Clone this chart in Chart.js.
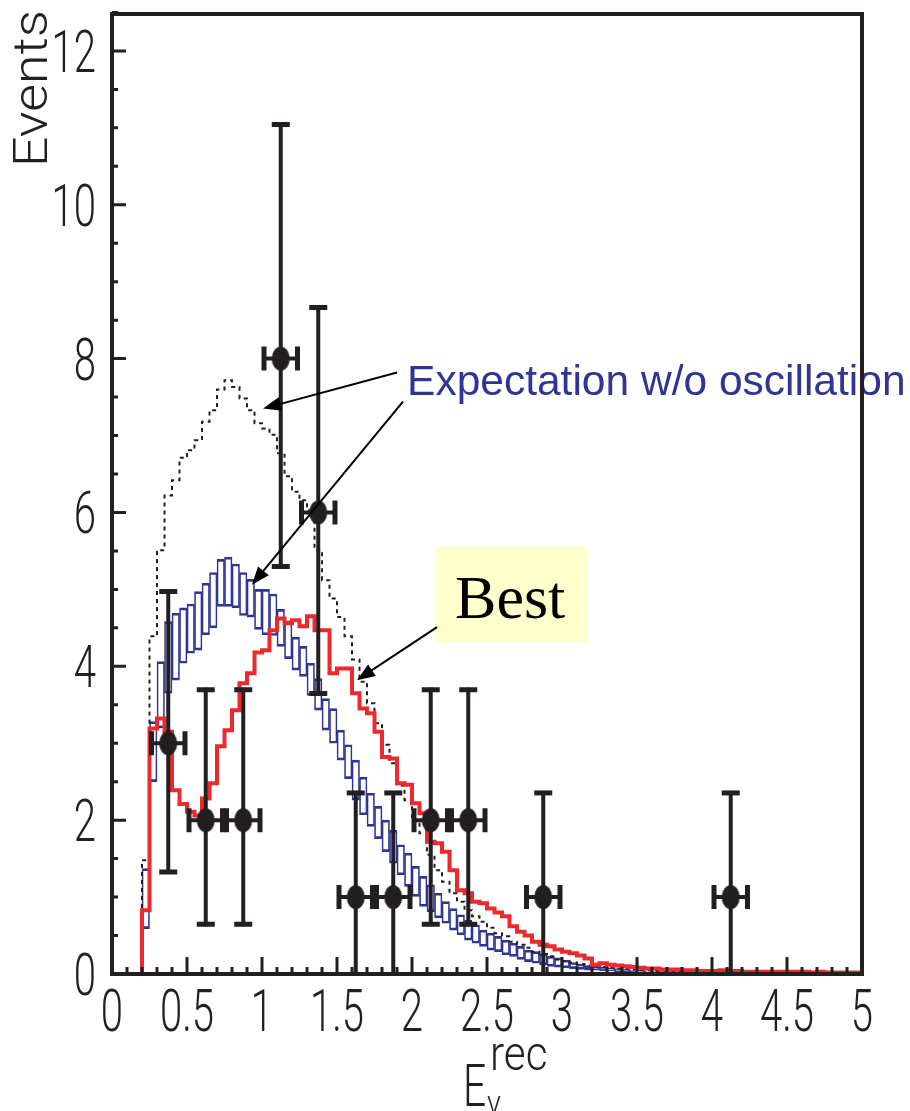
<!DOCTYPE html>
<html>
<head>
<meta charset="utf-8">
<script src="https://cdn.jsdelivr.net/npm/chart.js@4.4.0/dist/chart.umd.min.js"></script>
<style>
  html, body { margin: 0; padding: 0; background: #fff; }
  #wrap { width: 910px; height: 1111px; }
</style>
</head>
<body>
<div id="wrap"><canvas id="myChart" width="910" height="1111"></canvas></div>
<script>
// histogram bins are 0.05 wide, starting at 0
var binWidth = 0.05;

// best-fit oscillated spectrum (red)
var bestFit = [
    0, 0, 0, 0, 0.83, 3.19, 3.32, 3.15, 2.39, 2.21,
    2.11, 2.06, 2.28, 2.48, 2.96, 3.17, 3.43, 3.78, 3.91, 4.18,
    4.21, 4.47, 4.62, 4.56, 4.60, 4.52, 4.65, 4.47, 4.47, 3.91,
    3.97, 3.97, 3.65, 3.45, 3.39, 3.15, 2.82, 2.80, 2.48, 2.46,
    2.22, 2.09, 1.72, 1.70, 1.59, 1.35, 1.09, 1.05, 0.94, 0.92,
    0.85, 0.80, 0.75, 0.62, 0.55, 0.50, 0.42, 0.38, 0.36, 0.32,
    0.29, 0.27, 0.24, 0.20, 0.12, 0.14, 0.12, 0.11, 0.10, 0.09,
    0.08, 0.07, 0.07, 0.06, 0.06, 0.06, 0.05, 0.05, 0.04, 0.04,
    0.04, 0.05, 0.04, 0.04, 0.03, 0.03, 0.03, 0.03, 0.03, 0.03,
    0.03, 0.03, 0.03, 0.02, 0.03, 0.02, 0.02, 0.02, 0.02, 0.02
];

// expectation without oscillation (dashed)
var noOsc = [
    0, 0, 0, 0, 1.48, 4.39, 5.51, 6.22, 6.42, 6.71,
    6.81, 6.94, 7.18, 7.33, 7.60, 7.72, 7.63, 7.48, 7.33, 7.16,
    7.09, 7.01, 6.77, 6.47, 6.27, 6.16, 6.03, 5.51, 5.12, 4.88,
    4.64, 4.39, 4.09, 3.80, 3.52, 3.26, 2.98, 2.74, 2.45, 2.26,
    1.98, 1.83, 1.55, 1.35, 1.20, 1.05, 0.94, 0.83, 0.75, 0.68,
    0.60, 0.53, 0.49, 0.42, 0.38, 0.34, 0.29, 0.26, 0.23, 0.19,
    0.17, 0.15, 0.13, 0.11, 0.10, 0.09, 0.08, 0.07, 0.07, 0.06,
    0.05, 0.05, 0.04, 0.04, 0.04, 0.03, 0.03, 0.03, 0.03, 0.02,
    0.02, 0.02, 0.02, 0.02, 0.02, 0.02, 0.02, 0.01, 0.01, 0.01,
    0.01, 0.01, 0.01, 0.01, 0.01, 0.01, 0.01, 0.01, 0.01, 0.01
];

// error band boxes (blue), first box starts at bandStart
var bandStart = 0.20;
var bandLow = [
    0.59, 2.50, 3.20, 3.65, 3.82, 4.04, 4.17, 4.21, 4.41, 4.50,
    4.78, 4.78, 4.76, 4.66, 4.64, 4.48, 4.41, 4.40, 4.26, 4.10,
    3.95, 3.87, 3.62, 3.43, 3.17, 3.00, 2.78, 2.54, 2.26, 2.07,
    1.92, 1.76, 1.59, 1.44, 1.29, 1.14, 1.01, 0.88, 0.81, 0.73,
    0.66, 0.57, 0.51, 0.44, 0.40, 0.36, 0.31, 0.29, 0.25, 0.23,
    0.19, 0.16, 0.14, 0.12, 0.10, 0.09, 0.08, 0.07, 0.06, 0.05,
    0.05, 0.04, 0.04, 0.03, 0.03, 0.03, 0.02, 0.02, 0.02, 0.02,
    0.01, 0.01, 0.01, 0.01, 0.01, 0.01
];
var bandHigh = [
    1.37, 3.28, 4.06, 4.58, 4.69, 4.76, 4.81, 4.97, 5.08, 5.22,
    5.39, 5.42, 5.33, 5.22, 5.13, 5.00, 5.00, 4.94, 4.74, 4.59,
    4.38, 4.26, 4.04, 3.84, 3.58, 3.45, 3.17, 2.98, 2.78, 2.56,
    2.35, 2.18, 2.00, 1.87, 1.68, 1.57, 1.40, 1.27, 1.16, 1.05,
    0.94, 0.85, 0.77, 0.70, 0.64, 0.57, 0.53, 0.49, 0.44, 0.40,
    0.36, 0.31, 0.29, 0.26, 0.23, 0.21, 0.18, 0.15, 0.13, 0.11,
    0.10, 0.09, 0.08, 0.07, 0.06, 0.05, 0.05, 0.04, 0.04, 0.03,
    0.03, 0.03, 0.02, 0.02, 0.02, 0.02
];

// observed events
var pointX = [0.375, 0.625, 0.875, 1.125, 1.375, 1.625, 1.875, 2.125, 2.375, 2.875, 4.125];
var pointY = [3, 2, 2, 8, 6, 1, 1, 2, 2, 1, 1];
var errLow = [1.30, 0.62, 0.62, 5.27, 3.62, 0, 0, 0.62, 0.62, 0, 0];
var errHigh = [5.00, 3.72, 3.72, 11.07, 8.69, 2.38, 2.38, 3.72, 3.72, 2.38, 2.38];
var xHalfWidth = 0.125;

var xTickLabels = ['0', '0.5', '1', '1.5', '2', '2.5', '3', '3.5', '4', '4.5', '5'];
var yTickLabels = ['0', '2', '4', '6', '8', '10', '12'];

var INK = '#231f20';
var RED = '#ec2a2e';
var BLUE = '#2f3592';

function stepPoints(vals) {
    var pts = vals.map(function(v, i) { return { x: i * binWidth, y: v }; });
    pts.push({ x: vals.length * binWidth, y: vals[vals.length - 1] });
    return pts;
}

// filled ellipse used as the data marker
var dot = document.createElement('canvas');
dot.width = 20; dot.height = 26;
var dc = dot.getContext('2d');
dc.fillStyle = INK;
dc.beginPath();
dc.ellipse(10, 13, 9, 12, 0, 0, Math.PI * 2);
dc.fill();

function squeezed(ctx, text, x, y, align, sx) {
    ctx.save();
    ctx.translate(x, y);
    ctx.scale(sx, 1);
    ctx.textAlign = align;
    ctx.fillText(text, 0, 0);
    ctx.restore();
}

function arrow(ctx, x1, y1, x2, y2) {
    var ang = Math.atan2(y2 - y1, x2 - x1);
    var len = 18, half = 7;
    var c = Math.cos(ang), s = Math.sin(ang);
    ctx.beginPath();
    ctx.moveTo(x1, y1);
    ctx.lineTo(x2 - len * 0.8 * c, y2 - len * 0.8 * s);
    ctx.stroke();
    ctx.beginPath();
    ctx.moveTo(x2, y2);
    ctx.lineTo(x2 - len * c + half * s, y2 - len * s - half * c);
    ctx.lineTo(x2 - len * c - half * s, y2 - len * s + half * c);
    ctx.closePath();
    ctx.fill();
}

var errorBars = {
    id: 'errorBars',
    afterDatasetsDraw: function(chart) {
        var ctx = chart.ctx, xs = chart.scales.x, ys = chart.scales.y;
        ctx.save();
        ctx.strokeStyle = INK;
        ctx.lineCap = 'butt';
        for (var i = 0; i < pointX.length; i++) {
            var px = xs.getPixelForValue(pointX[i]);
            var py = ys.getPixelForValue(pointY[i]);
            var top = ys.getPixelForValue(errHigh[i]);
            var bot = ys.getPixelForValue(errLow[i]);
            ctx.lineWidth = 4;
            ctx.beginPath();
            ctx.moveTo(px, top); ctx.lineTo(px, bot);
            ctx.stroke();
            ctx.lineWidth = 5;
            ctx.beginPath();
            ctx.moveTo(px - 9, top + 2); ctx.lineTo(px + 9, top + 2);
            if (errLow[i] > 0) { ctx.moveTo(px - 9, bot - 2); ctx.lineTo(px + 9, bot - 2); }
            ctx.stroke();
            var xl = xs.getPixelForValue(pointX[i] - xHalfWidth);
            var xr = xs.getPixelForValue(pointX[i] + xHalfWidth);
            ctx.lineWidth = 4;
            ctx.beginPath();
            ctx.moveTo(xl, py); ctx.lineTo(xr, py);
            ctx.stroke();
            ctx.lineWidth = 5;
            ctx.beginPath();
            ctx.moveTo(xl + 2, py - 12); ctx.lineTo(xl + 2, py + 12);
            ctx.moveTo(xr - 2, py - 12); ctx.lineTo(xr - 2, py + 12);
            ctx.stroke();
        }
        ctx.restore();
    }
};

var frame = {
    id: 'frame',
    afterDraw: function(chart) {
        var ctx = chart.ctx, a = chart.chartArea, xs = chart.scales.x, ys = chart.scales.y;
        var X = function(v) { return xs.getPixelForValue(v); };
        var Y = function(v) { return ys.getPixelForValue(v); };
        ctx.save();

        // "Best" note
        ctx.fillStyle = '#ffffcc';
        ctx.fillRect(X(2.153), Y(5.553), X(3.173) - X(2.153), Y(4.317) - Y(5.553));
        ctx.fillStyle = '#000';
        ctx.font = '62px "Liberation Serif", "Times New Roman", serif';
        ctx.textAlign = 'left';
        ctx.fillText('Best', X(2.287), Y(4.63));

        ctx.fillStyle = BLUE;
        ctx.font = '42.5px "Liberation Sans", Arial, sans-serif';
        ctx.fillText('Expectation w/o oscillation', X(1.967), Y(7.53));

        ctx.strokeStyle = '#000';
        ctx.fillStyle = '#000';
        ctx.lineWidth = 2;
        arrow(ctx, X(1.90), Y(7.82), X(1.007), Y(7.35));
        arrow(ctx, X(1.94), Y(7.44), X(0.933), Y(5.06));
        arrow(ctx, X(2.167), Y(4.51), X(1.633), Y(3.82));

        // box and inward ticks
        ctx.strokeStyle = INK;
        ctx.lineWidth = 4;
        ctx.strokeRect(a.left, a.top, a.right - a.left, a.bottom - a.top);
        ctx.lineWidth = 3;
        ctx.beginPath();
        for (var k = 1; k < 50; k++) {
            var tx = X(k * 0.1);
            var tl = (k % 5 === 0) ? 17 : 7;
            ctx.moveTo(tx, a.bottom); ctx.lineTo(tx, a.bottom - tl);
        }
        for (var j = 1; j <= 25; j++) {
            var ty = Y(j * 0.5);
            var yl = (j % 4 === 0) ? 14 : 6;
            ctx.moveTo(a.left, ty); ctx.lineTo(a.left + yl, ty);
        }
        ctx.stroke();

        // tick labels, narrow face
        ctx.fillStyle = INK;
        ctx.font = '300 59px Roboto, "Liberation Sans", sans-serif';
        xTickLabels.forEach(function(t, i) {
            squeezed(ctx, t, X(i * 0.5), 1031, 'center', 0.68);
        });
        yTickLabels.forEach(function(t, i) {
            squeezed(ctx, t, 96, Y(i * 2) + 21, 'right', 0.68);
        });

        // axis titles
        ctx.save();
        ctx.translate(47, 167);
        ctx.rotate(-Math.PI / 2);
        ctx.font = '300 48px Roboto, "Liberation Sans", sans-serif';
        var w = ctx.measureText('Events').width;
        ctx.scale(157 / w, 1);
        ctx.textAlign = 'left';
        ctx.fillText('Events', 0, 0);
        ctx.restore();

        ctx.font = '300 60px Roboto, "Liberation Sans", sans-serif';
        squeezed(ctx, 'E', 463, 1106, 'left', 0.68);
        ctx.font = '300 34px Roboto, "Liberation Sans", sans-serif';
        squeezed(ctx, '\u03bd', 487, 1114, 'left', 0.85);
        ctx.font = '300 48px Roboto, "Liberation Sans", sans-serif';
        squeezed(ctx, 'rec', 490, 1070, 'left', 0.88);

        ctx.restore();
    }
};

window.onload = function() {
    var ctx = document.getElementById('myChart').getContext('2d');

    var bandData = bandLow.map(function(lo, i) {
        return { x: bandStart + (i + 0.5) * binWidth, y: [lo, bandHigh[i]] };
    });
    var pointData = pointX.map(function(x, i) { return { x: x, y: pointY[i] }; });

    new Chart(ctx, {
        type: 'scatter',
        data: {
            datasets: [
                {
                    type: 'scatter',
                    label: 'Data',
                    data: pointData,
                    pointStyle: dot,
                    order: 0
                },
                {
                    type: 'line',
                    label: 'Best',
                    data: stepPoints(bestFit),
                    stepped: 'before',
                    borderColor: RED,
                    borderWidth: 4,
                    pointRadius: 0,
                    fill: false,
                    order: 1
                },
                {
                    type: 'line',
                    label: 'Expectation w/o oscillation',
                    data: stepPoints(noOsc),
                    stepped: 'before',
                    borderColor: INK,
                    borderWidth: 2,
                    borderDash: [4, 4],
                    pointRadius: 0,
                    fill: false,
                    order: 2
                },
                {
                    type: 'bar',
                    label: 'Band',
                    data: bandData,
                    backgroundColor: 'rgba(0, 0, 0, 0)',
                    borderColor: BLUE,
                    borderWidth: { left: 1, right: 1, top: 2, bottom: 2 },
                    borderSkipped: false,
                    barPercentage: 1,
                    categoryPercentage: 1,
                    order: 3
                }
            ]
        },
        options: {
            responsive: false,
            animation: false,
            layout: { padding: { left: 112, right: 48, top: 14, bottom: 137 } },
            scales: {
                x: { type: 'linear', min: 0, max: 5, offset: false, display: false },
                y: { type: 'linear', min: 0, max: 12.48, display: false }
            },
            plugins: {
                legend: { display: false },
                tooltip: { enabled: false }
            }
        },
        plugins: [errorBars, frame]
    });
};
</script>
</body>
</html>
